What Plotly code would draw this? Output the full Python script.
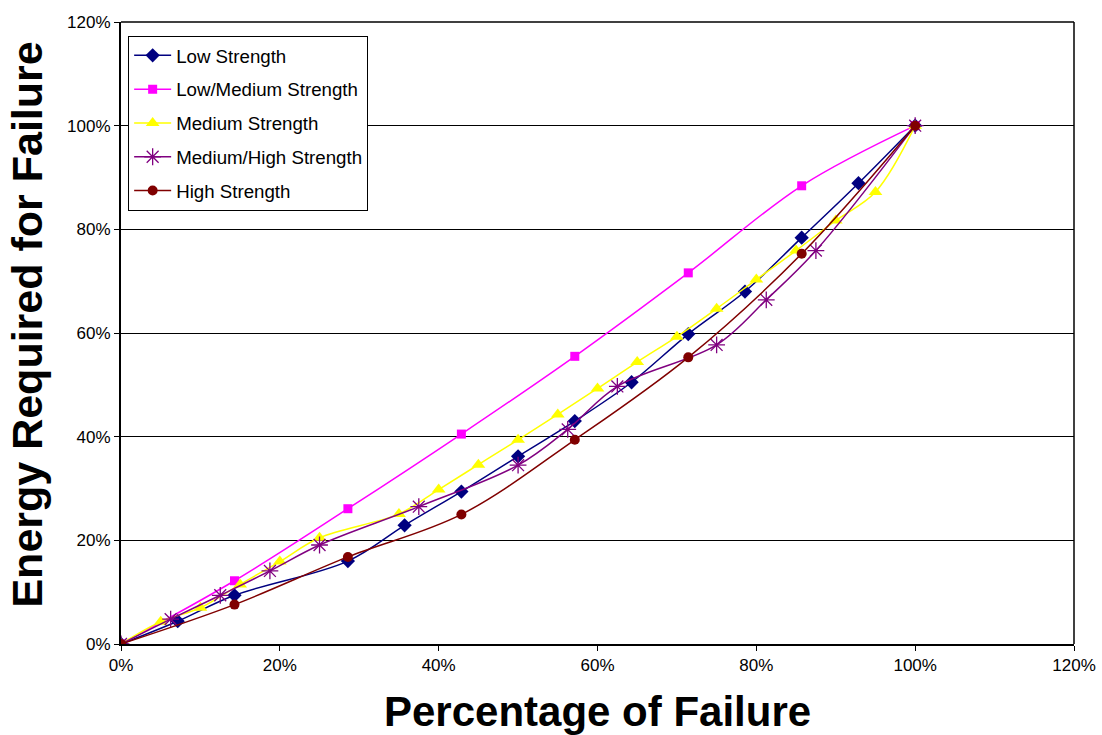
import plotly.graph_objects as go

# Percentage of failure (x) and energy required (y), both in percent
low_x = [0, 7.14, 14.29, 28.57, 35.71, 42.86, 50.0, 57.14, 64.29, 71.43, 78.57, 85.71, 92.86, 100]
low_y = [0, 4.4, 9.4, 16.0, 22.9, 29.4, 36.2, 43.0, 50.5, 59.8, 68.0, 78.4, 88.9, 100]

lowmed_x = [0, 14.29, 28.57, 42.86, 57.14, 71.43, 85.71, 100]
lowmed_y = [0, 12.2, 26.1, 40.5, 55.5, 71.6, 88.4, 100]

med_x = [0, 5, 10, 15, 20, 25, 35, 40, 45, 50, 55, 60, 65, 70, 75, 80, 85, 90, 95, 100]
med_y = [0, 4.3, 7.0, 11.5, 15.9, 20.5, 25.1, 29.8, 34.6, 39.4, 44.3, 49.3, 54.4, 59.3,
         64.7, 70.3, 75.9, 81.7, 87.2, 100]

medhigh_x = [0, 6.25, 12.5, 18.75, 25, 37.5, 50, 56.25, 62.5, 75, 81.25, 87.5, 100]
medhigh_y = [0, 4.8, 9.4, 14.1, 19.1, 26.5, 34.5, 41.4, 49.7, 57.7, 66.4, 75.9, 100]

high_x = [0, 14.29, 28.57, 42.86, 57.14, 71.43, 85.71, 100]
high_y = [0, 7.6, 16.8, 25.0, 39.4, 55.3, 75.3, 100]

series = [
    ("Low Strength", low_x, low_y, "#000080", "diamond", 11),
    ("Low/Medium Strength", lowmed_x, lowmed_y, "#FF00FF", "square", 9),
    ("Medium Strength", med_x, med_y, "#FFFF00", "triangle-up", 12),
    ("Medium/High Strength", medhigh_x, medhigh_y, "#800080", "asterisk-open", 14),
    ("High Strength", high_x, high_y, "#800000", "circle", 10),
]

FONT = "Liberation Sans, Arial, sans-serif"

fig = go.Figure()
for i, (name, xs, ys, color, symbol, size) in enumerate(series):
    marker = dict(symbol=symbol, size=size, color=color)
    if symbol == "asterisk-open":
        marker["line"] = dict(color=color, width=1.3)
    fig.add_trace(go.Scatter(
        x=[v / 100 for v in xs],
        y=[v / 100 for v in ys],
        mode="lines+markers",
        name=name,
        legendgroup=f"g{i}",
        line=dict(color=color, width=1.5, shape="spline", smoothing=1),
        marker=marker,
    ))

axis_common = dict(
    range=[0, 1.2],
    dtick=0.2,
    tick0=0,
    tickformat=".0%",
    showline=True,
    linecolor="#000000",
    linewidth=2,
    mirror=False,
    ticks="outside",
    ticklen=5,
    tickcolor="#000000",
    tickfont=dict(family=FONT, size=17, color="#000000"),
    zeroline=False,
    automargin=False,
)

fig.update_layout(
    width=1102,
    height=735,
    margin=dict(l=121, r=28, t=22, b=91),
    paper_bgcolor="white",
    plot_bgcolor="white",
    font=dict(family=FONT, color="#000000"),
    xaxis=dict(**axis_common, showgrid=False),
    yaxis=dict(**axis_common, showgrid=True, gridcolor="#000000", gridwidth=1),
    legend=dict(
        x=0.0075, y=0.978, xanchor="left", yanchor="top",
        bgcolor="white", bordercolor="#000000", borderwidth=1,
        font=dict(family=FONT, size=18.7, color="#000000"),
        tracegroupgap=6.5,
        traceorder="grouped",
        itemwidth=37,
    ),
    shapes=[
        # frame along the top and right of the plotting area
        dict(type="line", xref="paper", yref="paper", x0=0, x1=1, y0=1, y1=1,
             line=dict(color="#000000", width=1.5)),
        dict(type="line", xref="paper", yref="paper", x0=1, x1=1, y0=0, y1=1,
             line=dict(color="#000000", width=1.5)),
    ],
    annotations=[
        dict(text="<b>Percentage of Failure</b>", xref="paper", yref="paper",
             x=0.5, y=-0.109, xanchor="center", yanchor="middle", showarrow=False,
             font=dict(family=FONT, size=42, color="#000000")),
        dict(text="<b>Energy Required for Failure</b>", xref="paper", yref="paper",
             x=-0.099, y=0.513, xanchor="center", yanchor="middle", showarrow=False,
             textangle=-90,
             font=dict(family=FONT, size=43, color="#000000")),
    ],
)

fig.write_html("out.html")
